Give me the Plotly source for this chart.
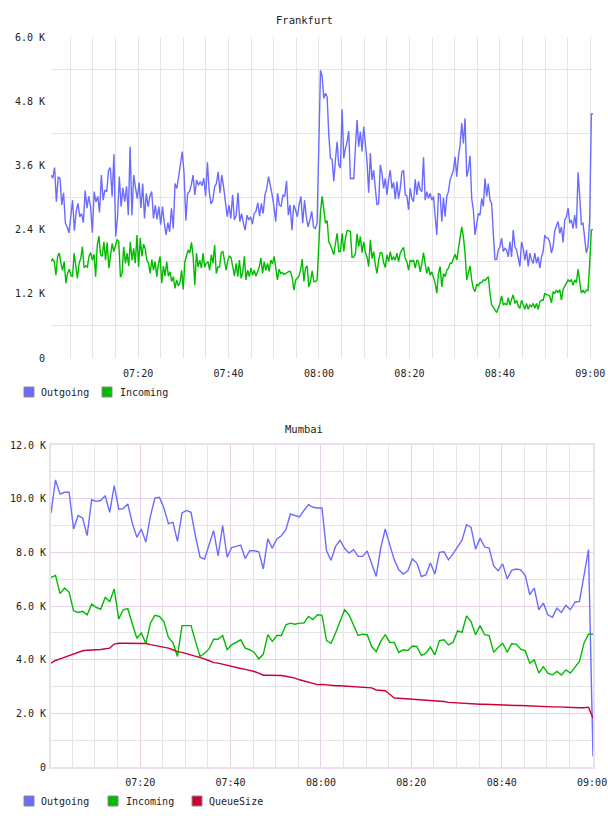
import pandas as pd
import plotly.graph_objects as go

# ---------------- DATA ----------------
# Frankfurt (values in thousands)
fra_seg1_start, fra_seg1_end = "2024-01-01 07:00:44", "2024-01-01 07:59:35"
fra_seg2_start, fra_seg2_end = "2024-01-01 08:00:20", "2024-01-01 09:00:36"

fra_out_1 = [3.42,3.36,3.56,2.92,3.38,3.36,2.86,3.09,2.52,2.45,2.34,2.63,2.95,2.38,2.74,2.89,2.64,2.70,2.53,3.13,
             2.80,3.02,2.83,2.34,3.11,2.92,3.02,2.72,3.42,2.95,3.14,3.11,3.51,3.56,3.02,3.81,2.27,2.64,3.39,2.83,
             3.18,2.92,3.21,2.67,3.95,2.67,3.42,3.18,2.98,3.28,2.80,3.26,2.61,3.08,2.83,3.02,3.11,2.61,2.86,2.59,
             2.83,2.49,2.83,2.53,2.30,2.53,2.36,2.80,2.42,3.26,3.17,3.39,3.61,3.86,3.45,2.57,3.08,3.11,3.23,3.42,
             3.05,3.33,3.23,3.30,3.22,3.36,3.02,3.66,3.11,2.88,2.95,3.20,3.26,3.48,3.08,3.42,3.20,2.89,2.64,2.86,
             2.61,3.05,2.58,2.67,3.09,2.55,2.70,2.52,2.39,2.67,2.58,2.64,2.50,2.70,2.74,2.90,2.65,2.89,2.70,3.05,
             3.17,3.39,3.23,3.05,2.83,2.55,3.08,2.86,2.84,3.05,3.02,3.31,2.67,2.86,2.39,2.86,2.77,2.64,2.86,3.02,
             2.52,2.95,2.64,2.45,2.58,2.74,2.45,2.42,2.52]
fra_out_2 = [5.38,5.26,4.85,4.95,4.88,4.17,3.73,3.71,3.30,3.70,4.04,3.61,3.55,4.65,3.73,3.92,4.04,4.24,3.35,3.36,
             3.35,3.92,4.45,3.95,4.23,3.86,4.32,4.01,3.67,3.09,3.83,3.33,3.51,3.17,2.86,2.89,3.61,3.45,3.17,3.36,
             3.05,3.33,3.51,3.17,3.28,2.97,3.30,2.98,3.17,3.48,3.51,3.05,3.03,2.77,3.17,2.98,2.92,3.34,3.05,3.30,
             3.14,3.11,3.75,2.95,3.11,2.98,3.08,2.95,3.02,2.64,2.30,3.08,3.05,2.55,3.00,2.64,3.02,3.11,3.33,3.42,
             3.51,3.76,3.39,3.76,3.98,4.39,4.01,4.48,3.39,3.51,3.78,2.98,2.77,2.30,2.52,2.70,2.67,2.98,2.83,3.36,
             3.02,3.26,2.95,2.89,2.33,1.84,1.84,2.02,2.08,2.24,1.99,2.05,2.02,1.89,2.17,1.89,2.39,2.08,2.02,1.89,
             1.71,2.17,2.05,1.83,2.02,1.71,1.96,1.83,1.77,1.96,1.77,1.89,1.68,1.89,1.99,2.30,2.24,2.24,2.16,1.96,
             2.08,2.38,2.49,2.55,2.33,2.45,2.16,2.58,2.64,2.80,2.52,2.58,2.42,2.67,2.42,3.47,3.02,2.50,2.52,2.27,
             1.96,2.08,2.58,4.56,4.56]
fra_in_1 = [1.81,1.85,1.80,1.55,1.90,1.96,1.77,1.64,1.80,1.40,1.58,1.66,1.55,1.52,1.96,1.74,1.49,1.77,1.86,2.08,
            1.69,1.72,1.70,1.90,1.97,1.83,1.94,1.52,2.11,2.28,1.93,1.90,2.17,1.83,2.16,1.68,1.90,2.14,1.99,2.11,
            2.21,2.18,1.51,1.58,2.08,1.77,1.96,1.72,2.17,1.83,2.05,1.77,2.30,1.70,2.24,1.90,2.13,2.04,1.83,1.77,
            1.58,1.84,1.64,1.80,1.52,1.76,1.90,1.40,1.72,1.53,1.80,1.53,1.61,1.43,1.52,1.30,1.46,1.35,1.40,1.64,
            1.28,1.80,1.90,2.02,1.96,2.16,1.90,1.36,1.96,1.70,1.83,1.68,1.96,1.70,1.77,1.80,1.64,1.93,1.77,2.11,
            1.58,1.70,1.70,1.97,1.99,1.83,1.64,1.83,1.91,1.87,1.70,1.53,1.77,1.52,1.83,1.49,1.60,1.90,1.46,1.64,
            1.52,1.68,1.55,1.64,1.53,1.61,1.70,1.87,1.58,1.80,1.64,1.77,1.62,1.83,1.76,1.90,1.70,1.46,1.66,1.58,
            1.60,1.56,1.58,1.60,1.62,1.61,1.49,1.27,1.46,1.49,1.53,1.64,1.85,1.43,1.68,1.72,1.33,1.43,1.63,1.43,
            1.43,1.46]
fra_in_2 = [2.74,3.02,2.70,2.52,2.57,2.17,2.11,2.02,1.93,2.14,2.33,1.99,1.99,2.33,1.99,2.24,2.38,2.38,2.36,1.88,
            1.89,1.94,2.32,2.08,2.27,1.97,2.17,1.97,1.89,1.71,2.21,1.86,1.99,1.74,1.58,1.83,1.97,1.96,1.78,1.69,
            1.93,1.80,1.99,1.83,1.89,1.83,1.96,1.80,1.96,2.02,2.07,1.86,1.80,1.64,1.83,1.80,1.83,1.68,1.83,1.80,
            1.61,1.77,1.97,1.76,1.58,1.71,1.55,1.61,1.49,1.40,1.21,1.58,1.71,1.33,1.58,1.52,1.64,1.68,1.77,1.77,
            1.86,1.94,1.83,2.02,2.21,2.45,2.27,1.96,1.46,1.58,1.72,1.46,1.30,1.24,1.38,1.35,1.41,1.41,1.46,1.45,
            1.49,1.52,1.21,0.99,0.95,0.90,0.85,0.93,1.02,1.16,0.99,1.02,0.99,1.13,0.99,1.10,1.18,1.02,1.08,0.97,
            0.93,1.08,0.99,0.91,1.02,0.91,0.99,0.96,1.02,0.93,1.02,0.91,1.05,1.08,1.08,1.21,1.18,1.18,1.15,1.03,
            1.24,1.21,1.27,1.22,1.28,1.08,1.28,1.33,1.40,1.46,1.43,1.46,1.36,1.46,1.41,1.66,1.43,1.21,1.27,1.21,
            1.27,1.26,1.76,2.39,2.40]

# Mumbai (values in thousands, one per minute)
mum_start, mum_end = "2024-01-01 07:00:16", "2024-01-01 09:00:12"
mum_out = [9.47,10.70,10.17,10.24,10.24,8.87,9.37,9.28,8.62,9.96,9.90,9.93,10.11,9.49,10.49,9.61,9.63,9.80,9.09,8.56,
           8.87,8.38,9.34,10.02,10.05,9.65,9.07,9.12,8.41,9.47,9.56,9.49,8.59,7.82,7.75,8.28,8.81,7.87,9.00,7.82,
           8.18,8.22,8.27,7.77,8.06,8.06,8.02,7.38,8.50,8.15,8.50,8.62,8.84,9.43,9.37,9.32,9.56,9.78,9.68,9.65,
           9.65,8.06,7.70,8.22,8.45,8.15,7.97,8.10,7.85,7.85,8.05,7.54,7.10,8.16,8.87,8.28,7.72,7.35,7.19,7.31,
           7.75,7.60,7.10,7.16,7.60,7.19,8.00,8.02,7.72,7.94,8.22,8.45,9.03,8.93,8.12,8.53,8.20,8.16,7.50,7.31,
           7.57,7.01,7.33,7.38,7.35,7.13,6.42,6.67,5.86,6.11,5.67,5.58,5.92,5.76,6.02,5.86,6.14,6.17,7.13,8.10,
           0.39]
mum_in = [7.06,7.14,6.46,6.67,6.52,5.82,5.76,5.80,5.67,6.07,5.95,5.88,6.32,6.17,6.63,5.52,5.86,5.90,5.34,4.80,
          4.99,4.61,5.36,5.65,5.61,5.42,4.83,4.64,4.12,5.27,5.27,5.27,4.68,4.12,4.24,4.40,4.76,4.76,4.90,4.37,
          4.55,4.65,4.74,4.43,4.37,4.27,4.03,4.20,4.93,4.68,4.90,4.90,5.30,5.36,5.32,5.36,5.36,5.61,5.49,5.67,
          5.65,4.71,4.61,4.99,5.42,5.86,5.67,5.30,4.90,4.95,4.93,4.49,4.30,4.68,4.93,4.65,4.64,4.27,4.37,4.34,
          4.51,4.49,4.15,4.24,4.47,4.18,4.71,4.74,4.55,4.64,5.07,5.02,5.63,5.42,4.93,5.27,4.93,4.90,4.28,4.45,
          4.61,4.28,4.59,4.58,4.39,4.33,3.87,3.99,3.50,3.74,3.50,3.43,3.56,3.43,3.62,3.50,3.72,3.93,4.61,4.95,
          4.95]
mum_queue = [3.87,3.97,4.03,4.09,4.15,4.22,4.29,4.33,4.35,4.37,4.37,4.38,4.40,4.43,4.58,4.61,4.61,4.61,4.61,4.61,
             4.61,4.60,4.56,4.53,4.50,4.47,4.43,4.37,4.30,4.27,4.22,4.18,4.14,4.09,4.03,3.96,3.89,3.87,3.83,3.78,
             3.74,3.69,3.67,3.64,3.61,3.56,3.50,3.42,3.42,3.42,3.42,3.41,3.38,3.35,3.31,3.25,3.20,3.16,3.11,3.07,
             3.08,3.06,3.05,3.03,3.03,3.02,3.01,3.01,3.00,2.99,2.97,2.95,2.87,2.86,2.84,2.71,2.57,2.56,2.55,2.54,
             2.52,2.51,2.50,2.49,2.48,2.46,2.45,2.44,2.41,2.40,2.38,2.36,2.35,2.34,2.34,2.34,2.34,2.33,2.33,2.31,
             2.31,2.30,2.30,2.29,2.29,2.28,2.28,2.26,2.26,2.25,2.25,2.24,2.24,2.23,2.23,2.21,2.21,2.21,2.21,2.23,
             1.82]

x_tick_vals = ["2024-01-01 07:20", "2024-01-01 07:40", "2024-01-01 08:00",
               "2024-01-01 08:20", "2024-01-01 08:40", "2024-01-01 09:00"]
x_tick_text = ["07:20", "07:40", "08:00", "08:20", "08:40", "09:00"]
fra_y_vals = [0, 1.2, 2.4, 3.6, 4.8, 6.0]
fra_y_text = ["0", "1.2 K", "2.4 K", "3.6 K", "4.8 K", "6.0 K"]
mum_y_vals = [0, 2, 4, 6, 8, 10, 12]
mum_y_text = ["0", "2.0 K", "4.0 K", "6.0 K", "8.0 K", "10.0 K", "12.0 K"]

series_names = ["Outgoing", "Incoming", "QueueSize"]
series_colors = ["#6b6bff", "#00bb00", "#cc0033"]

# ---------------- BUILD ----------------
W, H = 608, 816
FONT = "DejaVu Sans Mono"
GRID = "#e4e4e4"
LAV = "#e6d2e6"
LAV_BORDER = "#eedfee"


def times(a, b, n):
    return pd.date_range(a, b, periods=n)


fra_t_out = list(times(fra_seg1_start, fra_seg1_end, len(fra_out_1))) + list(times(fra_seg2_start, fra_seg2_end, len(fra_out_2)))
fra_t_in = list(times(fra_seg1_start, fra_seg1_end, len(fra_in_1))) + list(times(fra_seg2_start, fra_seg2_end, len(fra_in_2)))
mum_t = times(mum_start, mum_end, len(mum_out))

fig = go.Figure()

fig.add_trace(go.Scatter(x=fra_t_out, y=fra_out_1 + fra_out_2, mode="lines", name=series_names[0],
                         line=dict(color=series_colors[0], width=1.4), showlegend=False,
                         xaxis="x", yaxis="y"))
fig.add_trace(go.Scatter(x=fra_t_in, y=fra_in_1 + fra_in_2, mode="lines", name=series_names[1],
                         line=dict(color=series_colors[1], width=1.4), showlegend=False,
                         xaxis="x", yaxis="y"))
for vals, col, nm in zip([mum_out, mum_in, mum_queue], series_colors, series_names):
    fig.add_trace(go.Scatter(x=mum_t, y=vals, mode="lines", name=nm, line=dict(color=col, width=1.4),
                             showlegend=False, xaxis="x2", yaxis="y2"))

xdom = [51 / W, 593 / W]
tickfont = dict(family=FONT, size=10, color="#222")

# legend rows drawn as swatches + text (paper coordinates)
shapes, annotations = [], []
legend_rows = [
    (392, [(24, 39), (102, 118)], 2),
    (801, [(24, 39), (108, 124), (192, 207)], 3),
]
for y_px, items, n in legend_rows:
    for i in range(n):
        sx, tx = items[i]
        shapes.append(dict(type="rect", xref="paper", yref="paper",
                           x0=sx / W, x1=(sx + 10) / W, y0=1 - (y_px + 5) / H, y1=1 - (y_px - 5) / H,
                           fillcolor=series_colors[i], line=dict(color="#8a8a8a", width=1)))
        annotations.append(dict(text=series_names[i], x=tx / W, y=1 - y_px / H, xref="paper", yref="paper",
                                xanchor="left", yanchor="middle", showarrow=False,
                                font=dict(family=FONT, size=10, color="#222")))

annotations += [
    dict(text="Frankfurt", x=0.5, y=1 - 20 / H, xref="paper", yref="paper", yanchor="middle",
         showarrow=False, font=dict(family=FONT, size=10.5, color="#222")),
    dict(text="Mumbai", x=0.5, y=1 - 429 / H, xref="paper", yref="paper", yanchor="middle",
         showarrow=False, font=dict(family=FONT, size=10.5, color="#222")),
]

fig.update_layout(
    width=W, height=H, margin=dict(l=0, r=0, t=0, b=0, autoexpand=False),
    paper_bgcolor="white", plot_bgcolor="white", showlegend=False,
    font=dict(family=FONT, size=10, color="#222"),
    xaxis=dict(domain=xdom, anchor="y", type="date", automargin=False,
               range=[fra_seg1_start, fra_seg2_end],
               tickmode="array", tickvals=x_tick_vals, ticktext=x_tick_text,
               showgrid=True, gridcolor=GRID, gridwidth=1, zeroline=False, showline=False,
               ticks="", ticklabelstandoff=8, tickfont=tickfont,
               minor=dict(dtick=5 * 60 * 1000, tick0="2024-01-01 07:00", showgrid=True,
                          gridcolor=GRID, gridwidth=1, ticks="")),
    yaxis=dict(domain=[1 - 358 / H, 1 - 37 / H], anchor="x", range=[0, 6.0], automargin=False,
               tickmode="array", tickvals=fra_y_vals, ticktext=fra_y_text,
               showgrid=False, zeroline=False, showline=False, ticks="",
               ticklabelstandoff=5, tickfont=tickfont,
               minor=dict(tick0=0.6, dtick=1.2, showgrid=True, gridcolor=GRID, gridwidth=1, ticks="")),
    xaxis2=dict(domain=xdom, anchor="y2", type="date", automargin=False,
                range=[mum_start, mum_end],
                tickmode="array", tickvals=x_tick_vals, ticktext=x_tick_text,
                showgrid=True, gridcolor=LAV, gridwidth=1, zeroline=False,
                showline=True, mirror=True, linecolor=LAV_BORDER, linewidth=2,
                ticks="", ticklabelstandoff=5, tickfont=tickfont,
                minor=dict(dtick=5 * 60 * 1000, tick0="2024-01-01 07:00", showgrid=True,
                           gridcolor=GRID, gridwidth=1, ticks="")),
    yaxis2=dict(domain=[1 - 767 / H, 1 - 445 / H], anchor="x2", range=[0, 12], automargin=False,
                tickmode="array", tickvals=mum_y_vals, ticktext=mum_y_text,
                showgrid=True, gridcolor=LAV, gridwidth=1, zeroline=False,
                showline=True, mirror=True, linecolor=LAV_BORDER, linewidth=2,
                ticks="", ticklabelstandoff=1, tickfont=tickfont,
                minor=dict(dtick=1, showgrid=True, gridcolor=GRID, gridwidth=1, ticks="")),
    shapes=shapes,
    annotations=annotations,
)

fig.write_html("out.html")
